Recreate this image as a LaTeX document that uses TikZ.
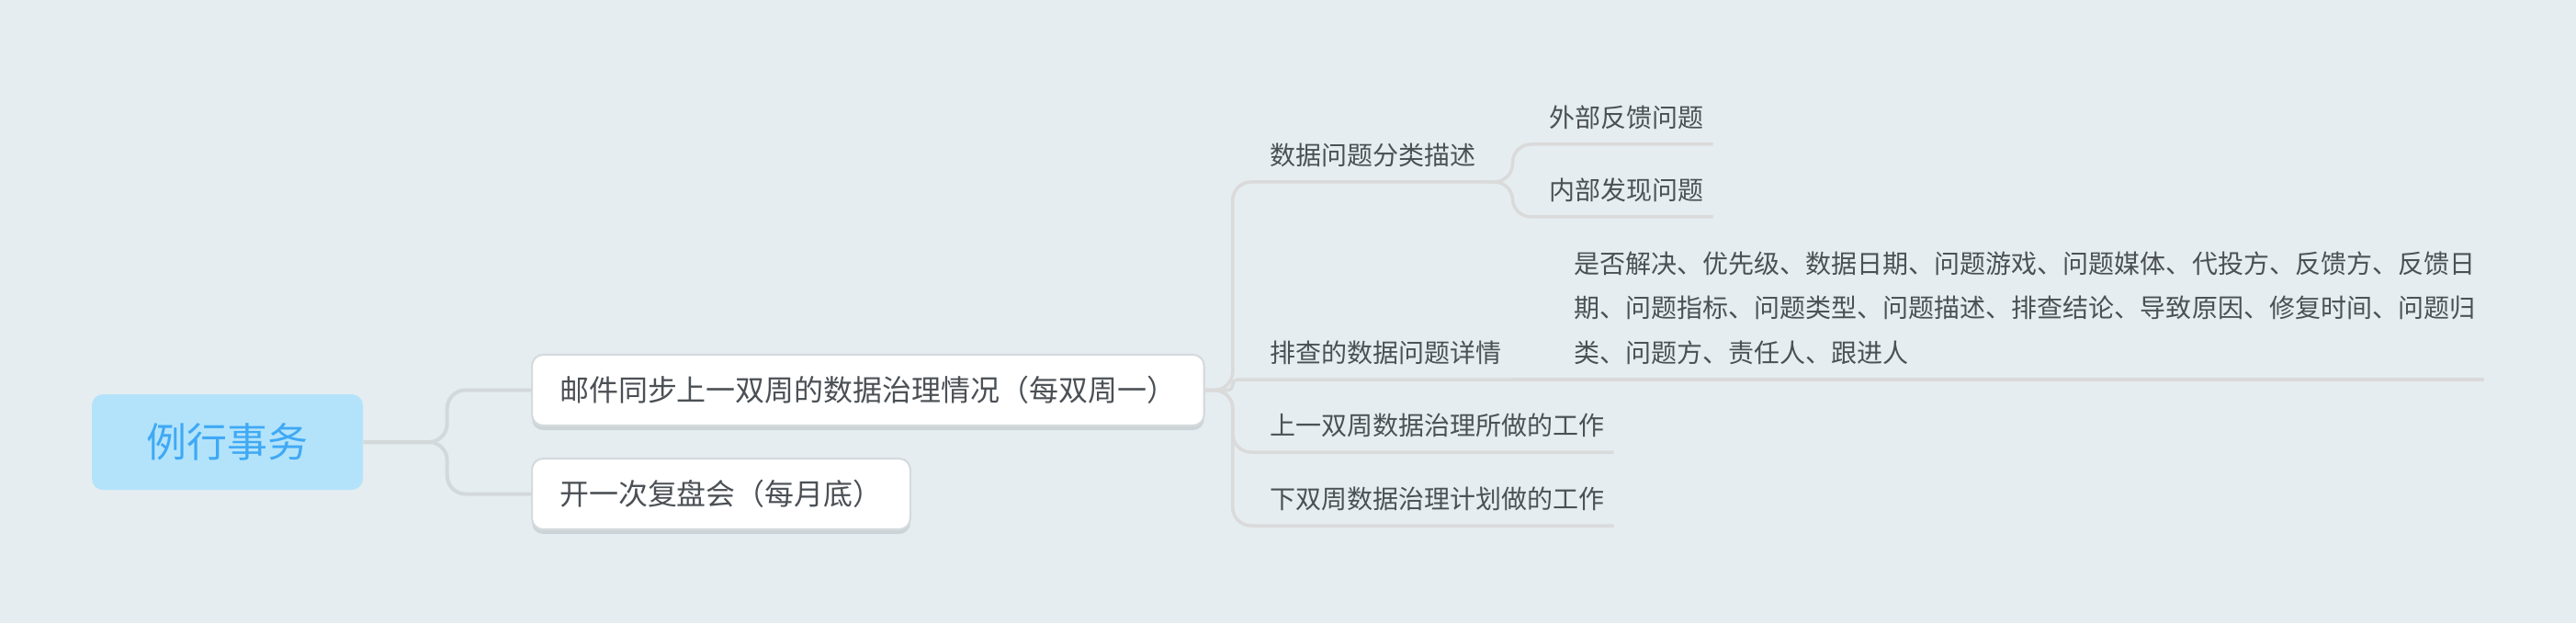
\documentclass[tikz,border=0pt]{standalone}
\usepackage{fontspec}
\newfontfamily\cjk{Noto Sans CJK SC}
\usetikzlibrary{shadows}
\definecolor{bgcol}{HTML}{E5EDF0}
\definecolor{rootfill}{HTML}{B3E3FA}
\definecolor{roottext}{HTML}{3FA9F5}
\definecolor{linecol}{HTML}{D3D8DB}
\definecolor{subline}{HTML}{DADADA}
\definecolor{textcol}{HTML}{4B5055}
\definecolor{boxline}{HTML}{D5DADD}

\begin{document}
\begin{tikzpicture}[
    rootbox/.style={rectangle, rounded corners=0.12cm, fill=rootfill, text=roottext,
        minimum width=2.95cm, minimum height=1.04cm, inner sep=0pt,
        font=\cjk\fontsize{12.5}{15}\selectfont},
    mainbox/.style={rectangle, rounded corners=0.12cm, draw=boxline, line width=0.6pt,
        fill=white, text=textcol, anchor=west, inner xsep=0.3cm, inner ysep=0pt,
        minimum height=0.77cm, text height=8pt, text depth=1.1pt,
        font=\cjk\fontsize{9.1}{11}\selectfont,
        drop shadow={shadow xshift=0cm, shadow yshift=-0.05cm, fill=black, opacity=0.1}},
    topic/.style={anchor=south west, inner xsep=0pt, inner ysep=0.178cm,
        text height=7pt, text depth=0pt, text=textcol,
        font=\cjk\fontsize{7.97}{13.8}\selectfont},
    link/.style={draw=linecol, line width=0.04cm, rounded corners=0.2cm},
    sublink/.style={draw=subline, line width=0.035cm, rounded corners=0.2cm}
]
        % Background and page size
        \fill[bgcol] (0,0) rectangle (28.04,6.78);
        \useasboundingbox (0,0) rectangle (28.04,6.78);
        % Central topic
        \node[rootbox] (routine) at (2.475,1.97) {例行事务};
        % Main topics
        \node[mainbox] (mail) at (5.78,2.535) {邮件同步上一双周的数据治理情况（每双周一）};
        \node[mainbox] (review) at (5.78,1.405) {开一次复盘会（每月底）};
        % Subtopics of the mail
        \node[topic] (classify) at (13.82,4.80) {数据问题分类描述};
        \node[topic] (detail) at (13.82,2.65) {排查的数据问题详情};
        \node[topic] (lastwork) at (13.82,1.86) {上一双周数据治理所做的工作};
        \node[topic] (nextwork) at (13.82,1.06) {下双周数据治理计划做的工作};
        % Third level
        \node[topic] (outside) at (16.86,5.21) {外部反馈问题};
        \node[topic] (inside) at (16.86,4.42) {内部发现问题};
        \node[topic, align=left] (fields) at (17.13,2.65)
            {是否解决、优先级、数据日期、问题游戏、问题媒体、代投方、反馈方、反馈日\\
             期、问题指标、问题类型、问题描述、排查结论、导致原因、修复时间、问题归\\
             类、问题方、责任人、跟进人};
        % Connectors
        \draw[link] (routine.east) -- ++(0.91,0) |- (mail.west);
        \draw[link] (routine.east) -- ++(0.91,0) |- (review.west);
        \foreach \n in {classify, lastwork, nextwork}
            \draw[sublink] (mail.east) -- ++(0.3,0) |- ([xshift=0.09cm]\n.south east);
        \draw[sublink, rounded corners=0.05cm] (mail.east) -- ++(0.3,0) |- ([xshift=0.09cm]detail.south east);
        \foreach \n in {outside, inside}
            \draw[sublink] ([xshift=0.09cm]classify.south east) -- ++(0.3,0) |- ([xshift=0.09cm]\n.south east);
        \draw[sublink] ([xshift=0.09cm]detail.south east) -- ([xshift=0.09cm]fields.south east);
    \end{tikzpicture}
\end{document}
